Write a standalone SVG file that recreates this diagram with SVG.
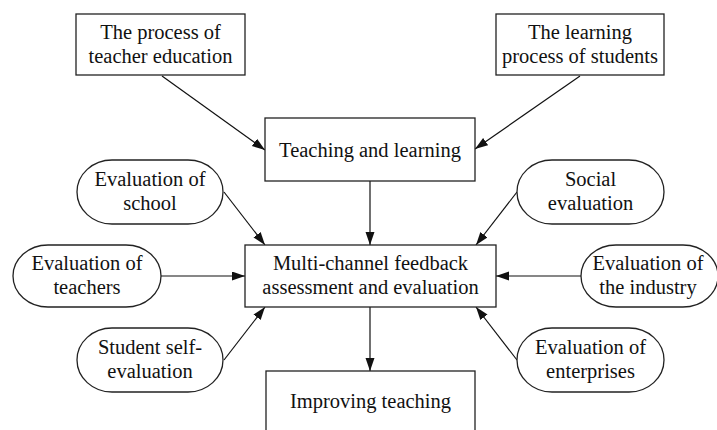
<svg xmlns="http://www.w3.org/2000/svg" width="717" height="430" viewBox="0 0 717 430">
  <style>
    .box { fill: #ffffff; stroke: #222222; stroke-width: 1.3; }
    .pill { fill: #ffffff; stroke: #222222; stroke-width: 1.3; }
    .label { font-family: 'Liberation Serif', 'Times New Roman', serif; font-size: 20.5px; fill: #111111; text-anchor: middle; }
    .edge { fill: none; stroke: #111111; stroke-width: 1.2; marker-end: url(#arrow); }
  </style>
  <defs>
    <marker id="arrow" markerUnits="userSpaceOnUse" markerWidth="14" markerHeight="10" refX="13" refY="4.5" orient="auto">
      <path d="M0,0 L13,4.5 L0,9 Z" fill="#111111"/>
    </marker>
  </defs>
  <rect width="717" height="430" fill="#ffffff"/>

  <!-- arrows into and out of the central assessment box -->
  <g id="connectors">
    <line class="edge" x1="162" y1="76" x2="265" y2="150"/>
    <line class="edge" x1="580" y1="76" x2="475" y2="149"/>
    <line class="edge" x1="370" y1="181" x2="370" y2="245"/>
    <line class="edge" x1="224" y1="192" x2="265" y2="245"/>
    <line class="edge" x1="161" y1="276" x2="245" y2="276"/>
    <line class="edge" x1="224" y1="360" x2="265" y2="307"/>
    <line class="edge" x1="517" y1="192" x2="476" y2="245"/>
    <line class="edge" x1="581" y1="276" x2="496" y2="276"/>
    <line class="edge" x1="517" y1="360" x2="476" y2="307"/>
    <line class="edge" x1="370" y1="307" x2="370" y2="371"/>
  </g>

  <g id="teacher-education">
    <rect class="box" x="76" y="14" width="169" height="61"/>
    <text class="label" x="160.5" y="39">The process of</text>
    <text class="label" x="160.5" y="63">teacher education</text>
  </g>

  <g id="student-learning">
    <rect class="box" x="496" y="14" width="168" height="61"/>
    <text class="label" x="580" y="39">The learning</text>
    <text class="label" x="580" y="63">process of students</text>
  </g>

  <g id="teaching-learning">
    <rect class="box" x="265" y="118" width="210" height="63"/>
    <text class="label" x="370" y="157">Teaching and learning</text>
  </g>

  <g id="feedback-assessment">
    <rect class="box" x="245" y="245" width="251" height="62"/>
    <text class="label" x="370.5" y="270">Multi-channel feedback</text>
    <text class="label" x="370.5" y="294">assessment and evaluation</text>
  </g>

  <g id="improving-teaching">
    <rect class="box" x="266" y="371" width="209" height="70"/>
    <text class="label" x="370.5" y="408">Improving teaching</text>
  </g>

  <g id="school-evaluation">
    <rect class="pill" x="77" y="160" width="146" height="64" rx="35" ry="32"/>
    <text class="label" x="150" y="186">Evaluation of</text>
    <text class="label" x="150" y="210">school</text>
  </g>

  <g id="teacher-evaluation">
    <rect class="pill" x="13" y="245" width="148" height="62" rx="35" ry="31"/>
    <text class="label" x="87" y="270">Evaluation of</text>
    <text class="label" x="87" y="294">teachers</text>
  </g>

  <g id="self-evaluation">
    <rect class="pill" x="77" y="328" width="146" height="64" rx="35" ry="32"/>
    <text class="label" x="150" y="354">Student self-</text>
    <text class="label" x="150" y="378">evaluation</text>
  </g>

  <g id="social-evaluation">
    <rect class="pill" x="517" y="160" width="147" height="64" rx="35" ry="32"/>
    <text class="label" x="590.5" y="186">Social</text>
    <text class="label" x="590.5" y="210">evaluation</text>
  </g>

  <g id="industry-evaluation">
    <rect class="pill" x="581" y="245" width="137" height="62" rx="35" ry="31"/>
    <text class="label" x="648" y="270">Evaluation of</text>
    <text class="label" x="648" y="294">the industry</text>
  </g>

  <g id="enterprise-evaluation">
    <rect class="pill" x="517" y="328" width="147" height="64" rx="35" ry="32"/>
    <text class="label" x="590.5" y="354">Evaluation of</text>
    <text class="label" x="590.5" y="378">enterprises</text>
  </g>
</svg>
